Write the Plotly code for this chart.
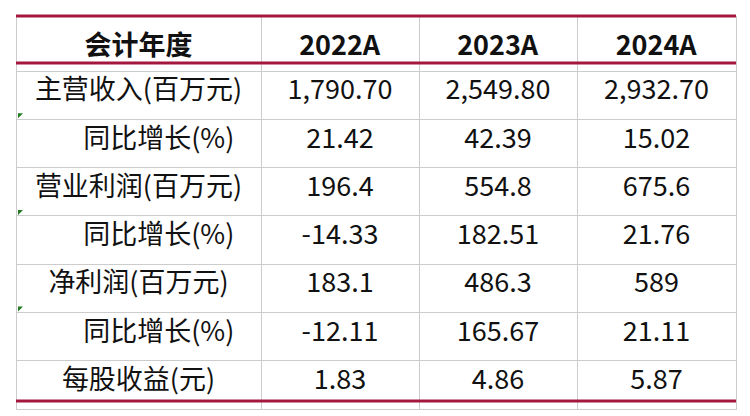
import plotly.graph_objects as go

header = ['会计年度', '2022A', '2023A', '2024A']
row_labels = ['主营收入(百万元)', '同比增长(%)', '营业利润(百万元)', '同比增长(%)',
              '净利润(百万元)', '同比增长(%)', '每股收益(元)']
y2022 = ['1,790.70', '21.42', '196.4', '-14.33', '183.1', '-12.11', '1.83']
y2023 = ['2,549.80', '42.39', '554.8', '182.51', '486.3', '165.67', '4.86']
y2024 = ['2,932.70', '15.02', '675.6', '21.76', '589', '21.11', '5.87']

# page renders with a ~7px offset, so shift the table up/left to compensate
W, H = 750, 416
left, right, top = 8, 728, 8
head_h, row_h = 47, 48.3
bottom = top + head_h + row_h * len(row_labels)
crimson = '#a3173f'
grid = '#cccccc'

# indent the growth rows like the original
labels = [('\u2003\u2002' + s) if s.startswith('同比') else s for s in row_labels]

fnt = dict(family='Noto Sans CJK SC', size=27, color='#111111')
fig = go.Figure(go.Table(
    domain=dict(x=[left / W, right / W], y=[0, 1 - top / H]),
    columnwidth=[245, 158, 158, 159],
    header=dict(values=['<b>%s</b>' % h for h in header], height=head_h,
                fill_color='white', line=dict(color=grid, width=1),
                font=fnt, align='center'),
    cells=dict(values=[labels, y2022, y2023, y2024], height=row_h,
               fill_color='white', line=dict(color=grid, width=1),
               font=fnt, align='center'),
))

shapes = []
for yy in [top, top + head_h, bottom]:
    shapes.append(dict(type='line', xref='paper', yref='paper', x0=left / W, x1=right / W,
                       y0=1 - yy / H, y1=1 - yy / H, line=dict(color=crimson, width=3)))
# little green markers on the growth rows
for i, s in enumerate(row_labels):
    if s.startswith('同比'):
        y0 = top + head_h + row_h * i + 2
        x0 = left + 2
        path = 'M %f %f L %f %f L %f %f Z' % (x0 / W, 1 - y0 / H, (x0 + 5) / W, 1 - y0 / H, x0 / W, 1 - (y0 + 5) / H)
        shapes.append(dict(type='path', xref='paper', yref='paper', path=path,
                           fillcolor='#1e7b1e', line=dict(width=0)))

fig.update_layout(width=W, height=H, margin=dict(l=0, r=0, t=0, b=0),
                  paper_bgcolor='white', shapes=shapes)
fig.write_html('out.html')
